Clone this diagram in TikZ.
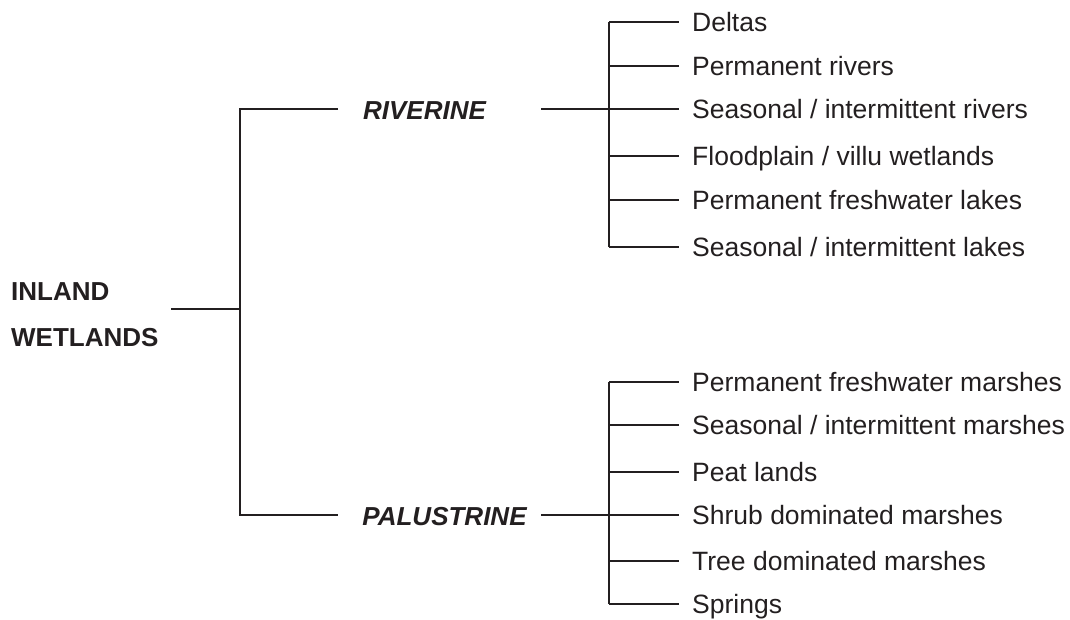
\documentclass[tikz,border=0pt]{standalone}
\usepackage{fontspec}
\setmainfont{Liberation Sans}
\definecolor{ink}{HTML}{231F20}
\begin{document}
\begin{tikzpicture}[x=1pt,y=-1pt,
  conn/.style={draw=ink, line width=1.3pt},
  leaf/.style={anchor=west, inner xsep=13pt, inner ysep=0pt, text=ink,
    font=\fontsize{26.5}{30}\selectfont, text height=18.9pt, text depth=0pt},
  cat/.style={anchor=center, inner sep=0pt, text=ink,
    font=\fontsize{26}{30}\selectfont\bfseries\itshape, text height=18.7pt, text depth=0pt},
  root/.style={anchor=north west, inner sep=0pt, align=left, text=ink,
    font=\fontsize{26}{46}\selectfont\bfseries}]
\useasboundingbox (0,0) rectangle (1070,619);

% root
\node[root] (iw) at (11,282) {INLAND\\WETLANDS};
\coordinate (iwr) at (171,309);
\coordinate (tm) at (240,309);
\coordinate (tt) at (240,109);
\coordinate (tb) at (240,515);

% categories
\node[cat] (riv) at (424.5,110) {RIVERINE};
\node[cat] (pal) at (444.5,516) {PALUSTRINE};
\coordinate (rivl) at (338,109);
\coordinate (rivr) at (541,109);
\coordinate (pall) at (338,515);
\coordinate (palr) at (541,515);

% brackets
\coordinate (rb) at (609,109);
\coordinate (rtop) at (609,22);
\coordinate (rbot) at (609,247);
\coordinate (pb) at (609,515);
\coordinate (ptop) at (609,382);
\coordinate (pbot) at (609,604);

% riverine leaves
\node[leaf] (r1) at (679,22) {Deltas};
\node[leaf] (r2) at (679,66) {Permanent rivers};
\node[leaf] (r3) at (679,109) {Seasonal / intermittent rivers};
\node[leaf] (r4) at (679,156) {Floodplain / villu wetlands};
\node[leaf] (r5) at (679,200) {Permanent freshwater lakes};
\node[leaf] (r6) at (679,247) {Seasonal / intermittent lakes};

% palustrine leaves
\node[leaf] (p1) at (679,382) {Permanent freshwater marshes};
\node[leaf] (p2) at (679,425) {Seasonal / intermittent marshes};
\node[leaf] (p3) at (679,472) {Peat lands};
\node[leaf] (p4) at (679,515) {Shrub dominated marshes};
\node[leaf] (p5) at (679,561) {Tree dominated marshes};
\node[leaf] (p6) at (679,604) {Springs};

% connectors
\draw[conn] (iwr) -- (tm);
\draw[conn] (rivl) -- (tt) -- (tb) -- (pall);
\draw[conn] (rivr) -- (rb);
\draw[conn] (palr) -- (pb);
\draw[conn] (rtop) -- (rbot);
\draw[conn] (ptop) -- (pbot);
\foreach \i in {1,...,6} {
  \draw[conn] (r\i.west -| rtop) -- (r\i.west);
  \draw[conn] (p\i.west -| ptop) -- (p\i.west);
}
\end{tikzpicture}
\end{document}
